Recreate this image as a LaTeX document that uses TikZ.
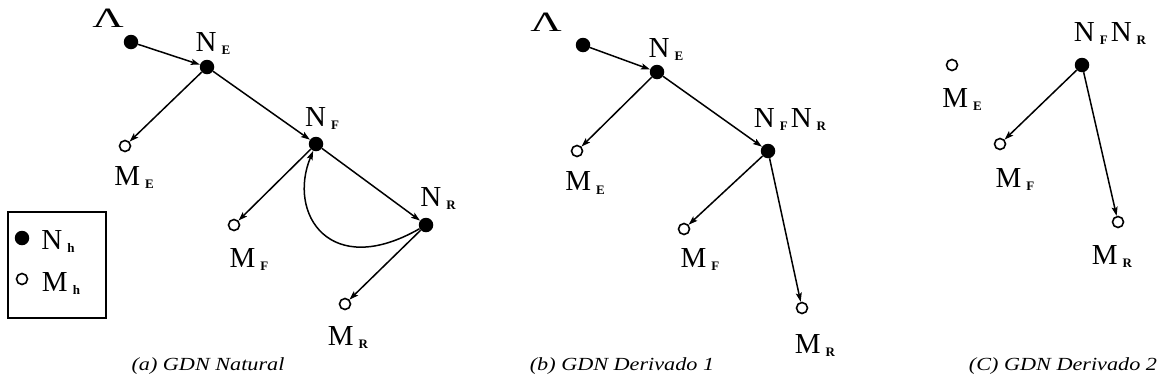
\documentclass[tikz,border=0pt]{standalone}
\usepackage{fontspec}
\setmainfont{Liberation Serif}
\usetikzlibrary{arrows.meta}
\newcommand{\glab}[2]{#1\kern5pt\raisebox{-3pt}{\fontsize{13}{13}\selectfont\bfseries #2}}
\newcommand{\lamb}{\scalebox{1.55}[1]{Λ}}
\newcommand{\capt}[1]{\scalebox{1.2}[1]{#1}}
\begin{document}
\begin{tikzpicture}[x=1pt,y=-1pt,
  hdot/.style={circle,fill=black,minimum size=14.5pt,inner sep=0pt},
  mdot/.style={circle,draw=black,line width=1.6pt,fill=white,minimum size=11pt,inner sep=0pt},
  lab/.style={inner sep=0pt,font=\fontsize{29}{29}\selectfont},
  lam/.style={inner sep=0pt,font=\fontsize{28}{28}\selectfont},
  captext/.style={inner sep=0pt,font=\fontsize{18.5}{18.5}\selectfont\itshape},
  arr/.style={line width=1.5pt,-{Stealth[length=9pt,width=6pt,inset=1.8pt]}},
  legbox/.style={draw,line width=2pt,minimum width=98pt,minimum height=106pt,inner sep=0pt}]
\useasboundingbox (0,0) rectangle (1161,389);
% ---------- panel (a)
\node[lam] (aLt) at (108,18) {\lamb};
\node[hdot] (aL) at (131,42) {};
\node[hdot] (aNE) at (207,67) {};
\node[lab] (aNEt) at (213,44) {\glab{N}{E}};
\node[mdot] (aME) at (125,146) {};
\node[lab] (aMEt) at (134,177) {\glab{M}{E}};
\node[hdot] (aNF) at (316,144) {};
\node[lab] (aNFt) at (322,119) {\glab{N}{F}};
\node[hdot] (aNR) at (426,225) {};
\node[lab] (aNRt) at (438,198) {\glab{N}{R}};
\node[mdot] (aMF) at (234,225) {};
\node[lab] (aMFt) at (249,259) {\glab{M}{F}};
\node[mdot] (aMR) at (345,304) {};
\node[lab] (aMRt) at (348,337) {\glab{M}{R}};
\draw[arr] (aL) -- (aNE);
\draw[arr] (aNE) -- (aME);
\draw[arr] (aNE) -- (aNF);
\draw[arr] (aNF) -- (aMF);
\draw[arr] (aNF) -- (aNR);
\draw[arr] (aNR) -- (aMR);
\draw[arr] (aNR) .. controls (330,280) and (287,214) .. (aNF);
\node[legbox] (leg) at (56.5,265) {};
\node[hdot] (legN) at (22,238) {};
\node[lab] (legNt) at (58,241) {\glab{N}{h}};
\node[mdot] (legM) at (22,279) {};
\node[lab] (legMt) at (61,283) {\glab{M}{h}};
\node[captext] (capa) at (208,366) {\capt{(a) GDN Natural}};
% ---------- panel (b)
\node[lam] (bLt) at (546,22) {\lamb};
\node[hdot] (bL) at (583,45) {};
\node[hdot] (bNE) at (657,72) {};
\node[lab] (bNEt) at (666,50) {\glab{N}{E}};
\node[mdot] (bME) at (577,151) {};
\node[lab] (bMEt) at (585,183) {\glab{M}{E}};
\node[hdot] (bNF) at (768,151) {};
\node[lab] (bNFt) at (790,120) {\glab{N}{F}\kern3pt\glab{N}{R}};
\node[mdot] (bMF) at (684,229) {};
\node[lab] (bMFt) at (700,259) {\glab{M}{F}};
\node[mdot] (bMR) at (802,308) {};
\node[lab] (bMRt) at (815,345) {\glab{M}{R}};
\draw[arr] (bL) -- (bNE);
\draw[arr] (bNE) -- (bME);
\draw[arr] (bNE) -- (bNF);
\draw[arr] (bNF) -- (bMF);
\draw[arr] (bNF) -- (bMR);
\node[captext] (capb) at (622,366) {\capt{(b) GDN Derivado 1}};
% ---------- panel (c)
\node[mdot] (cME) at (952,65) {};
\node[lab] (cMEt) at (962,100) {\glab{M}{E}};
\node[hdot] (cNF) at (1082,65) {};
\node[lab] (cNFt) at (1110,34) {\glab{N}{F}\kern3pt\glab{N}{R}};
\node[mdot] (cMF) at (1000,144) {};
\node[lab] (cMFt) at (1015,179) {\glab{M}{F}};
\node[mdot] (cMR) at (1118,222) {};
\node[lab] (cMRt) at (1112,256) {\glab{M}{R}};
\draw[arr] (cNF) -- (cMF);
\draw[arr] (cNF) -- (cMR);
\node[captext] (capc) at (1063,366) {\capt{(C) GDN Derivado 2}};
\end{tikzpicture}
\end{document}
